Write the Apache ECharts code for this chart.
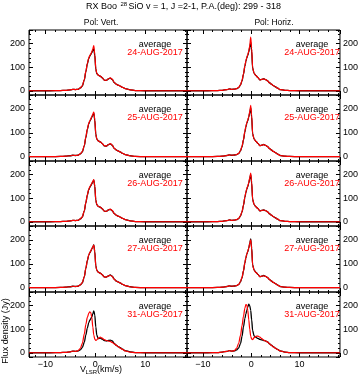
<!DOCTYPE html>
<html>
<head>
<meta charset="utf-8">
<script src="https://cdn.jsdelivr.net/npm/echarts@6/dist/echarts.min.js"></script>
<style>
html,body{margin:0;padding:0;background:#fff;}
#main{width:361px;height:378px;}
</style>
</head>
<body>
<div id="main"></div>
<script>
// velocity grid (km/s) shared by all spectra
var vel = [-13.3, -9, -7, -6, -5, -4.5, -4, -3.5, -3, -2.6, -2.2, -1.9, -1.6, -1.3, -1.1, -0.9, -0.7, -0.5, -0.3, -0.1,
           0.1, 0.3, 0.6, 1.0, 1.4, 1.8, 2.2, 2.6, 3.0, 3.4, 3.8, 4.2, 4.6, 5.0, 5.5, 6.0, 7.0, 8.0, 10, 18.4];

var dates = ['24-AUG-2017', '25-AUG-2017', '26-AUG-2017', '27-AUG-2017', '31-AUG-2017'];

// Pol: Vert. (left column)
var vert24Black = [0,0,1,2,4,6,5,6,12,20,46,80,113,138,147,154,162,171,178,150,92,73,66,62,55,45,44,50,54,48,35,28,24,20,14,9,4,1,0,0];
var vert24Red   = [0,0,1,2,4,6,5,6,12,21,48,82,115,140,149,156,165,178,192,155,95,74,66,62,55,45,44,50,55,49,35,28,24,20,14,9,4,1,0,0];
var vert25Black = [0,0,1,2,4,6,5,6,12,20,46,80,113,138,148,156,165,174,182,152,94,74,66,62,55,45,44,50,54,48,35,28,24,20,14,9,4,1,0,0];
var vert25Red   = [0,0,1,2,4,6,5,6,12,21,47,82,115,140,150,158,168,178,187,155,95,74,66,62,55,46,44,50,55,49,35,28,24,20,14,9,4,1,0,0];
var vert26Black = [0,0,1,2,4,6,5,6,12,20,46,80,112,137,146,153,161,170,177,150,92,73,65,62,55,45,44,50,53,47,35,28,24,20,14,9,4,1,0,0];
var vert26Red   = [0,0,1,2,4,6,5,6,12,21,47,81,114,139,148,155,163,172,179,151,93,73,65,62,55,45,44,50,54,48,35,28,24,20,14,9,4,1,0,0];
var vert27Black = [0,0,1,2,4,6,5,6,12,20,46,80,112,137,146,153,162,171,179,150,92,73,65,61,54,45,44,49,53,48,36,28,24,20,14,9,4,1,0,0];
var vert27Red   = [0,0,1,2,4,6,5,6,12,21,47,81,113,138,147,154,162,171,178,150,92,73,65,61,54,45,44,49,52,47,35,28,24,20,14,9,4,1,0,0];
var vert31Black = [0,0,1,2,4,7,6,7,12,22,45,75,105,128,138,145,152,165,178,160,110,75,60,62,58,52,50,52,54,50,40,32,26,22,15,9,4,1,0,0];
var vert31Red   = [0,0,1,2,4,7,6,8,18,40,80,120,150,168,174,170,150,110,75,58,52,55,62,66,62,56,52,50,48,44,38,32,26,20,14,8,3,1,0,0];

// Pol: Horiz. (right column)
var horiz24Black = [0,0,1,2,5,8,6,7,9,13,25,42,70,104,125,140,151,165,185,205,168,96,74,64,56,46,48,51,47,42,34,28,22,17,11,5,2,1,0,0];
var horiz24Red   = [0,0,1,2,5,8,6,7,9,14,26,44,72,106,127,142,153,168,192,228,180,98,74,64,56,46,48,51,47,42,34,28,22,17,11,5,2,1,0,0];
var horiz25Black = [0,0,1,2,5,8,6,7,9,13,25,42,70,104,125,140,151,165,184,204,166,95,74,64,56,46,48,51,47,42,34,28,22,17,11,5,2,1,0,0];
var horiz25Red   = [0,0,1,2,5,8,6,7,9,14,26,44,72,106,127,142,153,167,190,215,172,97,74,64,56,46,48,51,47,42,34,28,22,17,11,5,2,1,0,0];
var horiz26Black = [0,0,1,2,5,8,6,7,9,13,25,42,70,103,124,139,150,164,183,200,164,95,73,63,56,46,48,50,47,42,34,28,22,17,11,5,2,1,0,0];
var horiz26Red   = [0,0,1,2,5,8,6,7,9,14,26,43,71,105,126,141,152,166,188,207,168,96,73,63,56,46,48,50,47,42,34,28,22,17,11,5,2,1,0,0];
var horiz27Black = [0,0,1,2,5,8,6,7,9,13,25,42,70,104,125,140,151,165,186,204,166,95,74,64,56,46,48,51,47,42,34,28,22,17,11,5,2,1,0,0];
var horiz27Red   = [0,0,1,2,5,8,6,7,9,14,26,43,71,105,126,141,152,166,185,200,164,95,73,63,56,46,48,50,47,42,34,28,22,17,11,5,2,1,0,0];
var horiz31Black = [0,0,1,3,6,9,7,8,12,20,40,70,110,145,165,180,195,206,200,180,140,95,72,65,61,57,55,52,50,46,38,32,26,20,14,8,3,1,0,0];
var horiz31Red   = [0,0,1,3,6,9,7,9,20,40,75,115,155,190,205,203,180,140,100,70,58,56,64,70,71,66,60,54,50,45,38,31,25,20,13,8,3,1,0,0];

var panels = [
    [vert24Black, vert24Red, horiz24Black, horiz24Red],
    [vert25Black, vert25Red, horiz25Black, horiz25Red],
    [vert26Black, vert26Red, horiz26Black, horiz26Red],
    [vert27Black, vert27Red, horiz27Black, horiz27Red],
    [vert31Black, vert31Red, horiz31Black, horiz31Red]
];

var FONT = '"Liberation Sans", Arial, sans-serif';
var tops = [30, 95, 161, 226, 292];
var heights = [65, 66, 65, 66, 65];
var lefts = [29, 187];
var widths = [158, 157];

var Mychart = echarts.init(document.getElementById('main'));

function pairs(arr) {
    return vel.map(function (v, i) { return [v, arr[i]]; });
}
function minus(v) { return String(v).replace('-', '\u2212'); }

var grid = [], xAxis = [], yAxis = [], series = [], graphic = [];

for (var r = 0; r < 5; r++) {
    for (var c = 0; c < 2; c++) {
        var g = grid.length;
        grid.push({left: lefts[c], top: tops[r], width: widths[c], height: heights[r],
            show: true, borderColor: '#000', borderWidth: 1, backgroundColor: 'transparent'});
        // bottom + top x axes
        for (var k = 0; k < 2; k++) {
            xAxis.push({
                type: 'value', gridIndex: g, position: k == 0 ? 'bottom' : 'top',
                min: -13.3, max: 18.4, splitNumber: 3,
                axisLine: {show: false, onZero: false},
                axisTick: {show: true, inside: true, length: 4, lineStyle: {color: '#000'}},
                minorTick: {show: true, splitNumber: 5, length: 2, lineStyle: {color: '#000'}},
                splitLine: {show: false}, minorSplitLine: {show: false},
                axisLabel: {show: k == 0 && r == 4, margin: 3, color: '#000', fontSize: 9, fontFamily: FONT,
                    showMinLabel: false, showMaxLabel: false, formatter: minus}
            });
        }
        // left + right y axes
        for (var k = 0; k < 2; k++) {
            yAxis.push({
                type: 'value', gridIndex: g, position: k == 0 ? 'left' : 'right',
                min: -18, max: 258, splitNumber: 3,
                axisLine: {show: false, onZero: false},
                axisTick: {show: true, inside: true, length: 4, lineStyle: {color: '#000'}},
                minorTick: {show: true, splitNumber: 5, length: 2, lineStyle: {color: '#000'}},
                splitLine: {show: false}, minorSplitLine: {show: false},
                axisLabel: {show: k == c, margin: k == 0 ? 4 : 3, color: '#000', fontSize: 9, fontFamily: FONT,
                    showMinLabel: false, showMaxLabel: false}
            });
        }
        var d = panels[r];
        series.push({
            type: 'line', xAxisIndex: 2 * g, yAxisIndex: 2 * g, data: pairs(d[2 * c]),
            showSymbol: false, smooth: 0.3, smoothMonotone: 'x',
            lineStyle: {color: '#000', width: 1.3}, z: 2
        });
        series.push({
            type: 'line', xAxisIndex: 2 * g, yAxisIndex: 2 * g, data: pairs(d[2 * c + 1]),
            showSymbol: false, smooth: 0.3, smoothMonotone: 'x',
            lineStyle: {color: '#ff0000', width: 1.2}, z: 3
        });
        var cx = c == 0 ? 155 : 312;
        graphic.push({type: 'text', x: cx, y: tops[r] + 15, style: {text: 'average', fill: '#000',
            font: '9px ' + FONT, align: 'center', verticalAlign: 'middle', textAlign: 'center', textVerticalAlign: 'middle'}});
        graphic.push({type: 'text', x: cx, y: tops[r] + 23, style: {text: dates[r], fill: '#ff0000',
            font: '9px ' + FONT, align: 'center', verticalAlign: 'middle', textAlign: 'center', textVerticalAlign: 'middle'}});
    }
}

function txt(x, y, s, size, align, rot) {
    return {type: 'text', x: x, y: y, rotation: rot || 0, style: {text: s, fill: '#000', font: size + 'px ' + FONT,
        align: align, verticalAlign: 'middle', textAlign: align, textVerticalAlign: 'middle'}};
}
graphic.push(txt(86, 7, 'RX Boo', 9, 'left'));
graphic.push(txt(120.5, 4.5, '28', 6, 'left'));
graphic.push(txt(128.5, 7, 'SiO v = 1, J =2-1, P.A.(deg): 299 - 318', 9, 'left'));
graphic.push(txt(101, 22.5, 'Pol: Vert.', 8.5, 'center'));
graphic.push(txt(274, 22.5, 'Pol: Horiz.', 8.5, 'center'));
graphic.push(txt(5.5, 331, 'Flux density (Jy)', 9, 'center', Math.PI / 2));
graphic.push(txt(80, 370, 'V', 9, 'left'));
graphic.push(txt(85.5, 372.5, 'LSR', 6, 'left'));
graphic.push(txt(97, 370, '(km/s)', 9, 'left'));

var option = {
    animation: false,
    backgroundColor: '#fff',
    grid: grid,
    xAxis: xAxis,
    yAxis: yAxis,
    series: series,
    graphic: graphic
};
Mychart.setOption(option);
</script>
</body>
</html>
